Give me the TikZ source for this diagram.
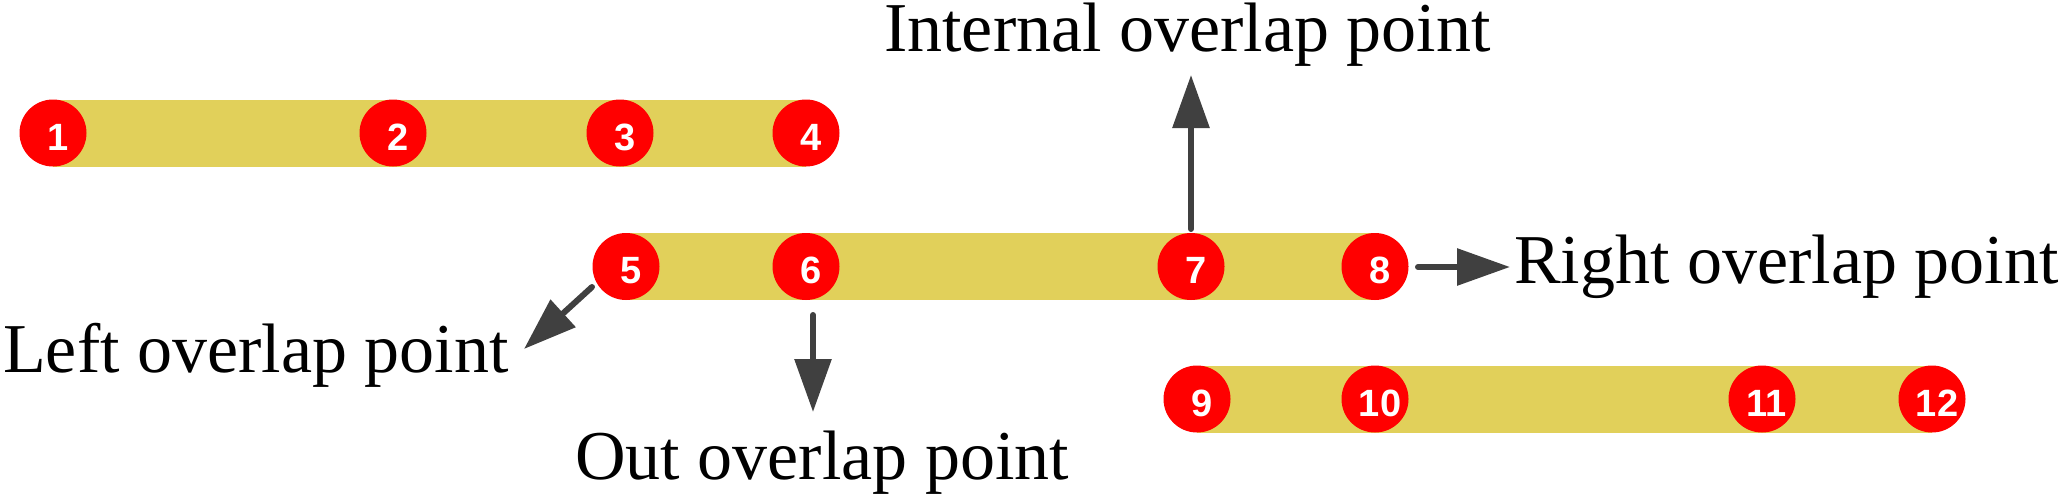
\documentclass[tikz,border=0pt]{standalone}
\usepackage{fontspec}
\setmainfont{Liberation Serif}
\newfontfamily\numfont{Liberation Sans}
\usetikzlibrary{arrows.meta}
\definecolor{baryellow}{RGB}{225,208,90}
\definecolor{ptred}{RGB}{255,0,0}
\definecolor{arrgray}{RGB}{64,64,64}
\begin{document}
\begin{tikzpicture}[x=1pt,y=-1pt,
  pt/.style={circle,fill=ptred,draw=none,minimum size=67pt,inner sep=0pt},
  num/.style={text=white,font=\numfont\bfseries\fontsize{38}{38}\selectfont,inner sep=0pt},
  barfill/.style={fill=baryellow,draw=none},
  lbl/.style={anchor=base west,inner sep=0pt,font=\fontsize{70}{84}\selectfont},
  pointer/.style={draw=arrgray,line width=6pt,line cap=round,
    -{Triangle[length=53pt,width=36pt]},arrgray}
]
\useasboundingbox (0,0) rectangle (2067,495);
% bars
\fill[barfill] (53,99.5) rectangle (806,166.5);
\fill[barfill] (626,233) rectangle (1375,300);
\fill[barfill] (1197,365.5) rectangle (1932,432.5);
% points
\foreach \n/\x/\y in {1/53/133,2/393/133,3/620/133,4/806/133,
  5/626/266.5,6/806/266.5,7/1191/266.5,8/1375/266.5,
  9/1197/399,10/1375/399,11/1762/399,12/1932/399}{
  \node[pt] (c\n) at (\x,\y) {};
  \node[num] (n\n) at (\x+5,\y+4) {\n};
}
% labels
\node[lbl] (tInt) at (884,52) {Internal overlap point};
\node[lbl] (tRight) at (1514,283) {Right overlap point};
\node[lbl] (tLeft) at (3,372) {Left overlap point};
\node[lbl] (tOut) at (575,479) {Out overlap point};
% arrow endpoints
\coordinate (aIntS) at (1191,229);
\coordinate (aIntE) at (1191,75);
\coordinate (aRightS) at (1418,267);
\coordinate (aRightE) at (1510,267);
\coordinate (aLeftS) at (592,287);
\coordinate (aLeftE) at (524,349);
\coordinate (aOutS) at (813,315);
\coordinate (aOutE) at (813,412);
\draw[pointer] (aIntS) -- (aIntE);
\draw[pointer] (aRightS) -- (aRightE);
\draw[pointer] (aLeftS) -- (aLeftE);
\draw[pointer] (aOutS) -- (aOutE);
\end{tikzpicture}
\end{document}
